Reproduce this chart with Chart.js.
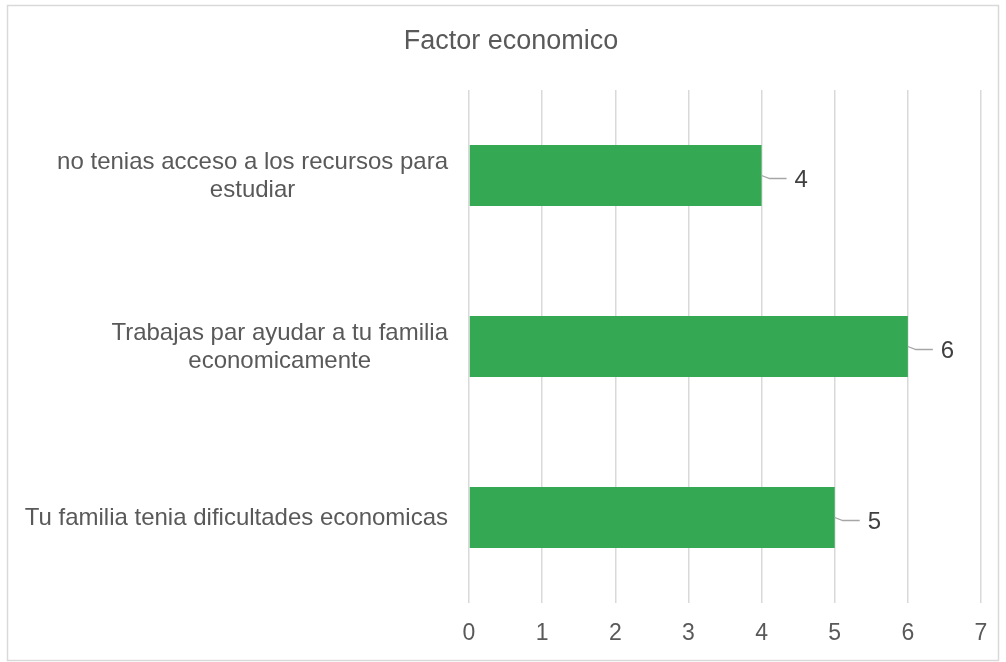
<!DOCTYPE html>
<html>
<head>
<meta charset="utf-8">
<script src="https://cdn.jsdelivr.net/npm/chart.js@4"></script>
<style>
html,body{margin:0;padding:0;background:#fff;}
#wrap{width:1006px;height:662px;position:relative;}
</style>
</head>
<body>
<div id="wrap"><canvas id="c" width="1006" height="662"></canvas></div>
<script>
const title = "Factor economico";
const categories = [
  ["no tenias acceso a los recursos para", "estudiar"],
  ["Trabajas par ayudar a tu familia", "economicamente"],
  ["Tu familia tenia dificultades economicas"]
];
const values = [4, 6, 5];
const xTicks = [0, 1, 2, 3, 4, 5, 6, 7];

const FONT = "'Liberation Sans', Arial, sans-serif";

const decor = {
  id: 'decor',
  beforeDraw(chart) {
    const ctx = chart.ctx;
    ctx.save();
    ctx.fillStyle = '#fff';
    ctx.fillRect(0, 0, chart.width, chart.height);
    ctx.strokeStyle = '#d9d9d9';
    ctx.lineWidth = 1.5;
    ctx.strokeRect(7.5, 5.5, 991, 655);
    ctx.restore();
  },
  afterDraw(chart) {
    const ctx = chart.ctx;
    const xs = chart.scales.x, ys = chart.scales.y;
    ctx.save();
    // title
    ctx.fillStyle = '#595959';
    ctx.font = '27px ' + FONT;
    ctx.textAlign = 'center';
    ctx.textBaseline = 'middle';
    ctx.fillText(title, 511, 42);
    // category labels
    ctx.font = '24px ' + FONT;
    categories.forEach((lines, i) => {
      const yc = ys.getPixelForValue(i);
      let maxW = 0;
      lines.forEach(l => { maxW = Math.max(maxW, ctx.measureText(l).width); });
      const cx = xs.left - 21 - maxW / 2;
      const lh = 28;
      const y0 = yc - (lines.length - 1) * lh / 2 + 1;
      lines.forEach((l, k) => ctx.fillText(l, cx, y0 + k * lh));
    });
    // data labels with leader lines
    const meta = chart.getDatasetMeta(0);
    meta.data.forEach((bar, i) => {
      const x = xs.getPixelForValue(values[i]);
      const y = bar.y;
      ctx.strokeStyle = '#a6a6a6';
      ctx.lineWidth = 1.3;
      ctx.beginPath();
      ctx.moveTo(x, y);
      ctx.lineTo(x + 8, y + 3);
      ctx.lineTo(x + 25, y + 3);
      ctx.stroke();
      ctx.fillStyle = '#404040';
      ctx.font = '24px ' + FONT;
      ctx.textAlign = 'left';
      ctx.fillText(String(values[i]), x + 33, y + 5);
    });
    ctx.restore();
  }
};

new Chart(document.getElementById('c'), {
  type: 'bar',
  data: {
    labels: categories.map(c => c.join(' ')),
    datasets: [{
      data: values,
      backgroundColor: '#34a853',
      borderWidth: 0,
      barPercentage: 0.357,
      categoryPercentage: 1
    }]
  },
  options: {
    indexAxis: 'y',
    responsive: false,
    animation: false,
    devicePixelRatio: 1,
    layout: { padding: { left: 469, right: 25, top: 90, bottom: 16 } },
    plugins: { legend: { display: false }, title: { display: false }, tooltip: { enabled: false } },
    scales: {
      x: {
        min: 0, max: 7,
        afterBuildTicks(s) { s.ticks = xTicks.map(v => ({ value: v })); },
        afterFit(s) { s.height = 43; },
        grid: { color: '#d9d9d9', lineWidth: 1.5, drawTicks: false },
        border: { display: false },
        ticks: { color: '#595959', font: { size: 23, family: FONT }, padding: 17 }
      },
      y: {
        afterFit(s) { s.width = 0; },
        grid: { display: false },
        border: { display: false },
        ticks: { display: false }
      }
    }
  },
  plugins: [decor]
});
</script>
</body>
</html>
